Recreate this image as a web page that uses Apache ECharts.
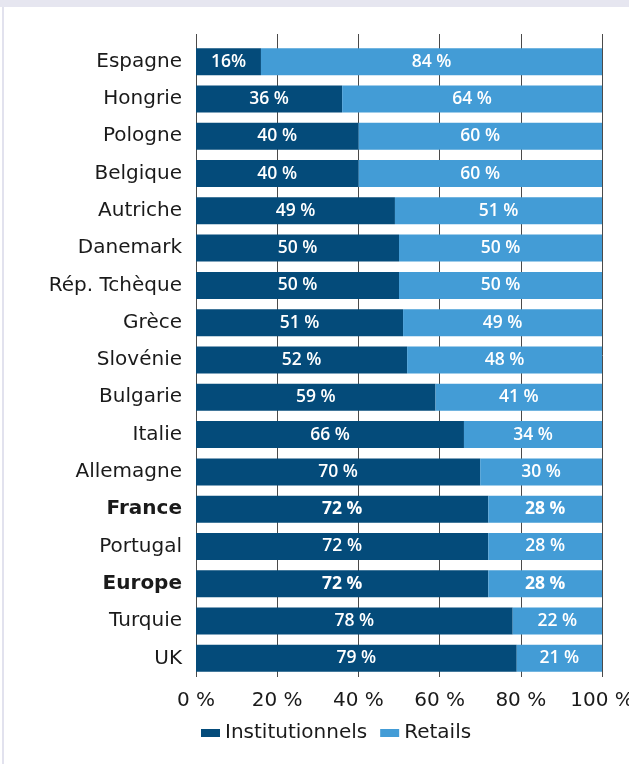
<!DOCTYPE html>
<html>
<head>
<meta charset="utf-8">
<script src="https://cdn.jsdelivr.net/npm/echarts@6/dist/echarts.min.js"></script>
<style>
  html, body { margin: 0; padding: 0; background: #fff; }
  #chart { width: 629px; height: 764px; }
</style>
</head>
<body>
<div id="chart"></div>
<script>
const categories = ['Espagne', 'Hongrie', 'Pologne', 'Belgique', 'Autriche', 'Danemark', 'Rép. Tchèque', 'Grèce', 'Slovénie', 'Bulgarie', 'Italie', 'Allemagne', 'France', 'Portugal', 'Europe', 'Turquie', 'UK']
const institutionnels = [16, 36, 40, 40, 49, 50, 50, 51, 52, 59, 66, 70, 72, 72, 72, 78, 79]
const retails = [84, 64, 60, 60, 51, 50, 50, 49, 48, 41, 34, 30, 28, 28, 28, 22, 21]
const xTicks = [0, 20, 40, 60, 80, 100]
const boldCategories = ['France', 'Europe']
// the source writes "16%" without the space on this one
const noSpaceLabels = ['Espagne']

const DARK = '#044b7a'
const LIGHT = '#439cd6'
const FONT = 'DejaVu Sans'

const toItems = (values, series) => values.map((v, i) => {
  const bold = boldCategories.includes(categories[i])
  const sep = (series === 'inst' && noSpaceLabels.includes(categories[i])) ? '' : ' '
  return {
    value: v,
    label: {
      formatter: v + sep + '%',
      fontWeight: bold ? 700 : 600
    }
  }
})

const barLabel = {
  show: true,
  position: 'inside',
  color: '#fff',
  fontFamily: 'Open Sans',
  fontSize: 17.5
}

const chart = echarts.init(document.getElementById('chart'))
chart.setOption({
  animation: false,
  textStyle: { fontFamily: FONT },
  graphic: [
    { type: 'rect', shape: { x: 0, y: 0, width: 629, height: 7 }, style: { fill: '#e6e6f0' } },
    { type: 'rect', shape: { x: 2, y: 7, width: 2, height: 757 }, style: { fill: '#e2e2ee' } }
  ],
  grid: [
    { left: 196, right: 27, top: 43, height: 634, outerBoundsMode: 'none', containLabel: false },
    { left: 196, right: 27, top: 34, height: 643, outerBoundsMode: 'none', containLabel: false }
  ],
  xAxis: [{
    type: 'value',
    gridIndex: 0,
    min: 0,
    max: 100,
    interval: 20,
    axisLine: { show: false },
    axisTick: { show: false },
    splitLine: { show: false },
    axisLabel: {
      margin: 14,
      color: '#1a1a1a',
      fontSize: 20,
      fontFamily: FONT,
      formatter: (v) => xTicks.includes(v) ? v + ' %' : ''
    }
  }, {
    type: 'value',
    gridIndex: 1,
    min: 0,
    max: 100,
    interval: 20,
    axisLine: { show: false },
    axisTick: { show: false },
    axisLabel: { show: false },
    splitLine: { show: true, lineStyle: { color: '#4a4a4a', width: 1 } }
  }],
  yAxis: [{
    type: 'category',
    gridIndex: 0,
    data: categories,
    inverse: true,
    axisLine: { show: false },
    axisTick: { show: false },
    axisLabel: {
      margin: 14,
      color: '#1a1a1a',
      fontSize: 20,
      fontFamily: FONT,
      formatter: (v) => boldCategories.includes(v) ? '{b|' + v + '}' : v,
      rich: { b: { fontWeight: 'bold', fontSize: 20, fontFamily: FONT, color: '#1a1a1a' } }
    }
  }, {
    type: 'category',
    gridIndex: 1,
    data: [''],
    show: false
  }],
  legend: {
    left: 196,
    top: 718,
    itemWidth: 19,
    itemHeight: 8,
    itemGap: 13,
    icon: 'rect',
    textStyle: { color: '#1a1a1a', fontSize: 20, fontFamily: FONT },
    data: ['Institutionnels', 'Retails']
  },
  series: [{
    name: 'Institutionnels',
    type: 'bar',
    stack: 'total',
    xAxisIndex: 0,
    yAxisIndex: 0,
    barWidth: 27,
    itemStyle: { color: DARK },
    label: barLabel,
    data: toItems(institutionnels, 'inst')
  }, {
    name: 'Retails',
    type: 'bar',
    stack: 'total',
    xAxisIndex: 0,
    yAxisIndex: 0,
    barWidth: 27,
    itemStyle: { color: LIGHT },
    label: barLabel,
    data: toItems(retails, 'ret')
  }]
})
</script>
</body>
</html>
